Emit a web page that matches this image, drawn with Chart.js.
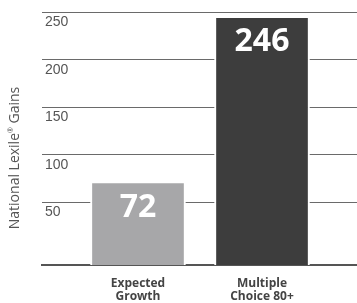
<!DOCTYPE html>
<html>
<head>
<meta charset="utf-8">
<script src="https://cdn.jsdelivr.net/npm/chart.js@4"></script>
<style>
  html, body { margin: 0; padding: 0; background: #fff; }
  #wrap { width: 357px; height: 303px; }
</style>
</head>
<body>
<div id="wrap"><canvas id="gainsChart"></canvas></div>
<script>
// chart data
const categories = [['Expected', 'Growth'], ['Multiple', 'Choice 80+']];
const gains = [72, 246];
const barColors = ['#a7a7a9', '#3d3d3d'];
const yTicks = [50, 100, 150, 200, 250];
// axis title, split round the superscript mark
const yTitleParts = ['National Lexile', '\u00AE', ' Gains'];

const yMin = -16;

// draws the big white numbers inside each bar
const valueLabels = {
    id: 'valueLabels',
    afterDatasetsDraw(chart) {
        const ctx = chart.ctx;
        const meta = chart.getDatasetMeta(0);
        ctx.save();
        ctx.fillStyle = '#fff';
        ctx.font = 'bold 32px "Open Sans"';
        ctx.textAlign = 'center';
        ctx.textBaseline = 'middle';
        meta.data.forEach(function(bar, i) {
            ctx.fillText(String(gains[i]), bar.x, bar.y + 26);
        });
        ctx.restore();
    }
};

// rotated axis title on the left, with a small raised ®
const sideTitle = {
    id: 'sideTitle',
    afterDraw(chart) {
        const ctx = chart.ctx;
        const big = '14px "Open Sans"';
        const small = '7px "Open Sans"';
        ctx.save();
        ctx.translate(15, 158);
        ctx.rotate(-Math.PI / 2);
        ctx.fillStyle = '#555';
        ctx.textBaseline = 'middle';
        ctx.textAlign = 'left';
        ctx.font = big;
        const w0 = ctx.measureText(yTitleParts[0]).width;
        const w2 = ctx.measureText(yTitleParts[2]).width;
        ctx.font = small;
        const w1 = ctx.measureText(yTitleParts[1]).width;
        let x = -(w0 + w1 + w2) / 2;
        ctx.font = big;
        ctx.fillText(yTitleParts[0], x, 0);
        x += w0;
        ctx.font = small;
        ctx.fillText(yTitleParts[1], x, -4);
        x += w1;
        ctx.font = big;
        ctx.fillText(yTitleParts[2], x, 0);
        ctx.restore();
    }
};

document.addEventListener('DOMContentLoaded', function() {
    const el = document.getElementById('gainsChart');
    new Chart(el, {
        type: 'bar',
        data: {
            datasets: [{
                data: gains.map(function(v, i) { return {x: i, y: v}; }),
                backgroundColor: barColors,
                borderColor: '#fff',
                borderWidth: 2,
                borderSkipped: 'start',
                barThickness: 95,
                base: yMin
            }]
        },
        options: {
            responsive: true,
            maintainAspectRatio: false,
            animation: false,
            layout: { padding: { left: 42, right: 0, top: 4, bottom: 0 } },
            plugins: {
                legend: { display: false },
                tooltip: { enabled: false }
            },
            scales: {
                x: {
                    type: 'linear',
                    offset: false,
                    min: -0.774,
                    max: 1.766,
                    afterBuildTicks: function(axis) {
                        axis.ticks = categories.map(function(c, i) { return {value: i}; });
                    },
                    afterFit: function(axis) {
                        axis.paddingLeft = 0;
                        axis.paddingRight = 0;
                        axis.height = 38;
                    },
                    ticks: {
                        callback: function(v) { return categories[v]; },
                        color: '#444',
                        font: { family: 'Open Sans', size: 12, weight: 'bold', lineHeight: 1.1 },
                        padding: 12,
                        maxRotation: 0,
                        autoSkip: false
                    },
                    grid: { display: true, drawOnChartArea: false, drawTicks: false },
                    border: { display: true, color: '#555', width: 2 }
                },
                y: {
                    min: yMin,
                    max: 259,
                    afterBuildTicks: function(axis) {
                        axis.ticks = yTicks.map(function(v) { return {value: v}; });
                    },
                    afterFit: function(axis) {
                        axis.paddingTop = 0;
                        axis.paddingBottom = 0;
                        axis.width = 0;
                    },
                    ticks: {
                        mirror: true,
                        padding: 3,
                        labelOffset: 10,
                        color: '#555',
                        font: { family: 'Liberation Sans', size: 14 }
                    },
                    grid: { color: '#6a6a6a', lineWidth: 1, drawTicks: false },
                    border: { display: false }
                }
            }
        },
        plugins: [valueLabels, sideTitle]
    });
});
</script>
</body>
</html>
